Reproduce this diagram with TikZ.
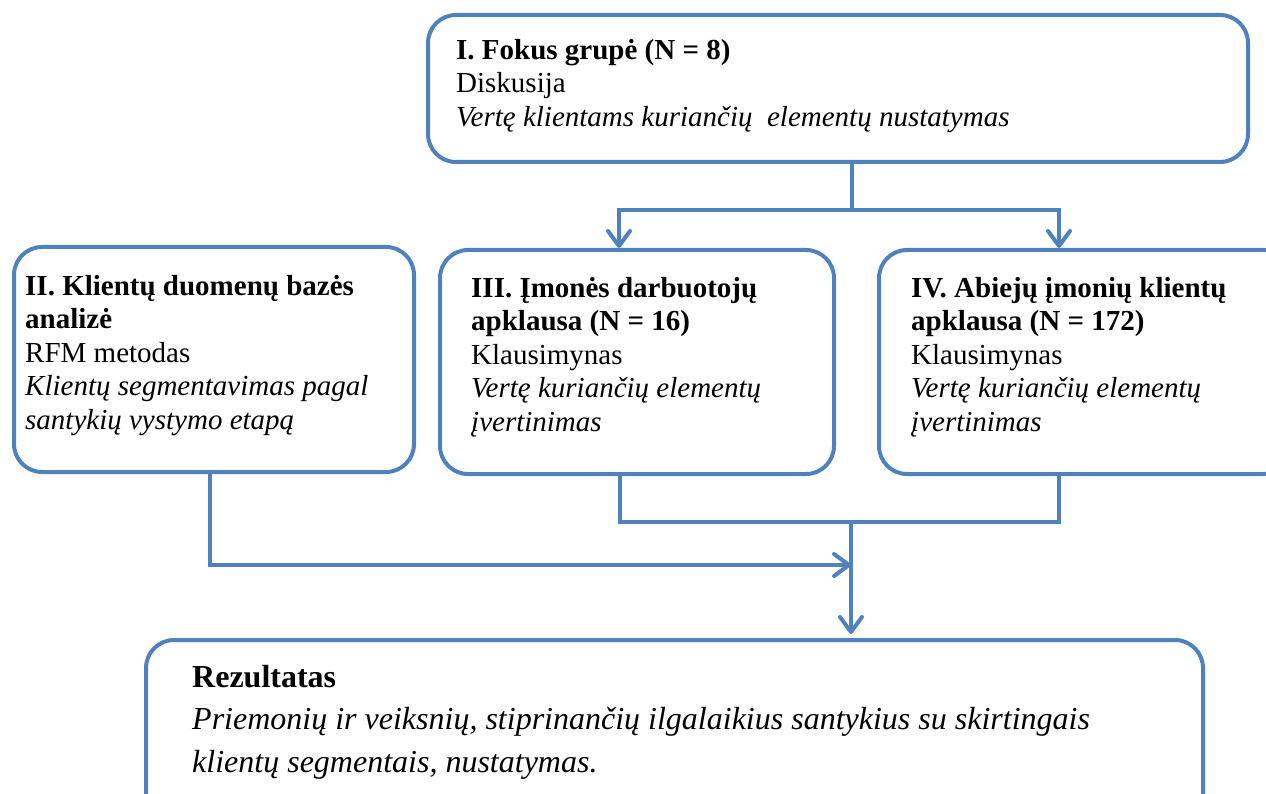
\documentclass[tikz,border=0pt]{standalone}
\usepackage{fontspec}
\setmainfont{Liberation Serif}
\usetikzlibrary{arrows.meta}
\definecolor{flowblue}{HTML}{4F81BD}
\begin{document}
\begin{tikzpicture}[x=1pt,y=-1pt,
  box/.style={draw=flowblue, line width=4pt, rounded corners=28pt,
    inner sep=0pt, anchor=north west},
  txt/.style={anchor=north west, inner sep=0pt, align=left,
    font=\fontsize{29}{33.5}\selectfont},
  link/.style={draw=flowblue, line width=4pt},
  arrow/.style={link, -{Straight Barb[length=15pt,width=22pt,round]}}]
\clip (0,0) rectangle (1266,794);

% boxes
\node[box, minimum width=820pt, minimum height=147pt] (b1) at (426,13) {};
\node[box, minimum width=400pt, minimum height=225pt] (b2) at (12,245) {};
\node[box, minimum width=394pt, minimum height=224pt] (b3) at (438,248) {};
\node[box, minimum width=413pt, minimum height=224pt] (b4) at (877,248) {};
\node[box, minimum width=1057pt, minimum height=190pt] (b5) at (144,638) {};

% texts
\node[txt] (t1) at (456,39) {\textbf{I. Fokus grupė (N = 8)}\\
  Diskusija\\
  \textit{Vertę klientams kuriančių\ \ elementų nustatymas}};
\node[txt] (t2) at (25,275) {\textbf{II. Klientų duomenų bazės}\\
  \textbf{analizė}\\
  RFM metodas\\
  \textit{Klientų segmentavimas pagal}\\
  \textit{santykių vystymo etapą}};
\node[txt] (t3) at (471,277) {\textbf{III. Įmonės darbuotojų}\\
  \textbf{apklausa (N = 16)}\\
  Klausimynas\\
  \textit{Vertę kuriančių elementų}\\
  \textit{įvertinimas}};
\node[txt] (t4) at (911,277) {\textbf{IV. Abiejų įmonių klientų}\\
  \textbf{apklausa (N = 172)}\\
  Klausimynas\\
  \textit{Vertę kuriančių elementų}\\
  \textit{įvertinimas}};
\node[txt, font=\fontsize{32}{42.5}\selectfont] (t5) at (192,665)
  {\textbf{Rezultatas}\\
  \textit{Priemonių ir veiksnių, stiprinančių ilgalaikius santykius su skirtingais}\\
  \textit{klientų segmentais, nustatymas.}};

% junction points
\coordinate (split) at (852,210);
\coordinate (merge) at (851,522);
\coordinate (join) at (851,565);

% connectors
\draw[link] (b1.south -| split) -- (split);
\draw[arrow] (split) -| ([xshift=181pt]b3.north west);
\draw[arrow] (split) -| ([xshift=182pt]b4.north west);
\draw[arrow] ([xshift=198pt]b2.south west) |- (join);
\draw[link] ([xshift=182pt]b3.south west) |- (merge)
  -| ([xshift=182pt]b4.south west);
\draw[arrow] (merge) -- ([yshift=4pt]merge |- b5.north);
\end{tikzpicture}
\end{document}
